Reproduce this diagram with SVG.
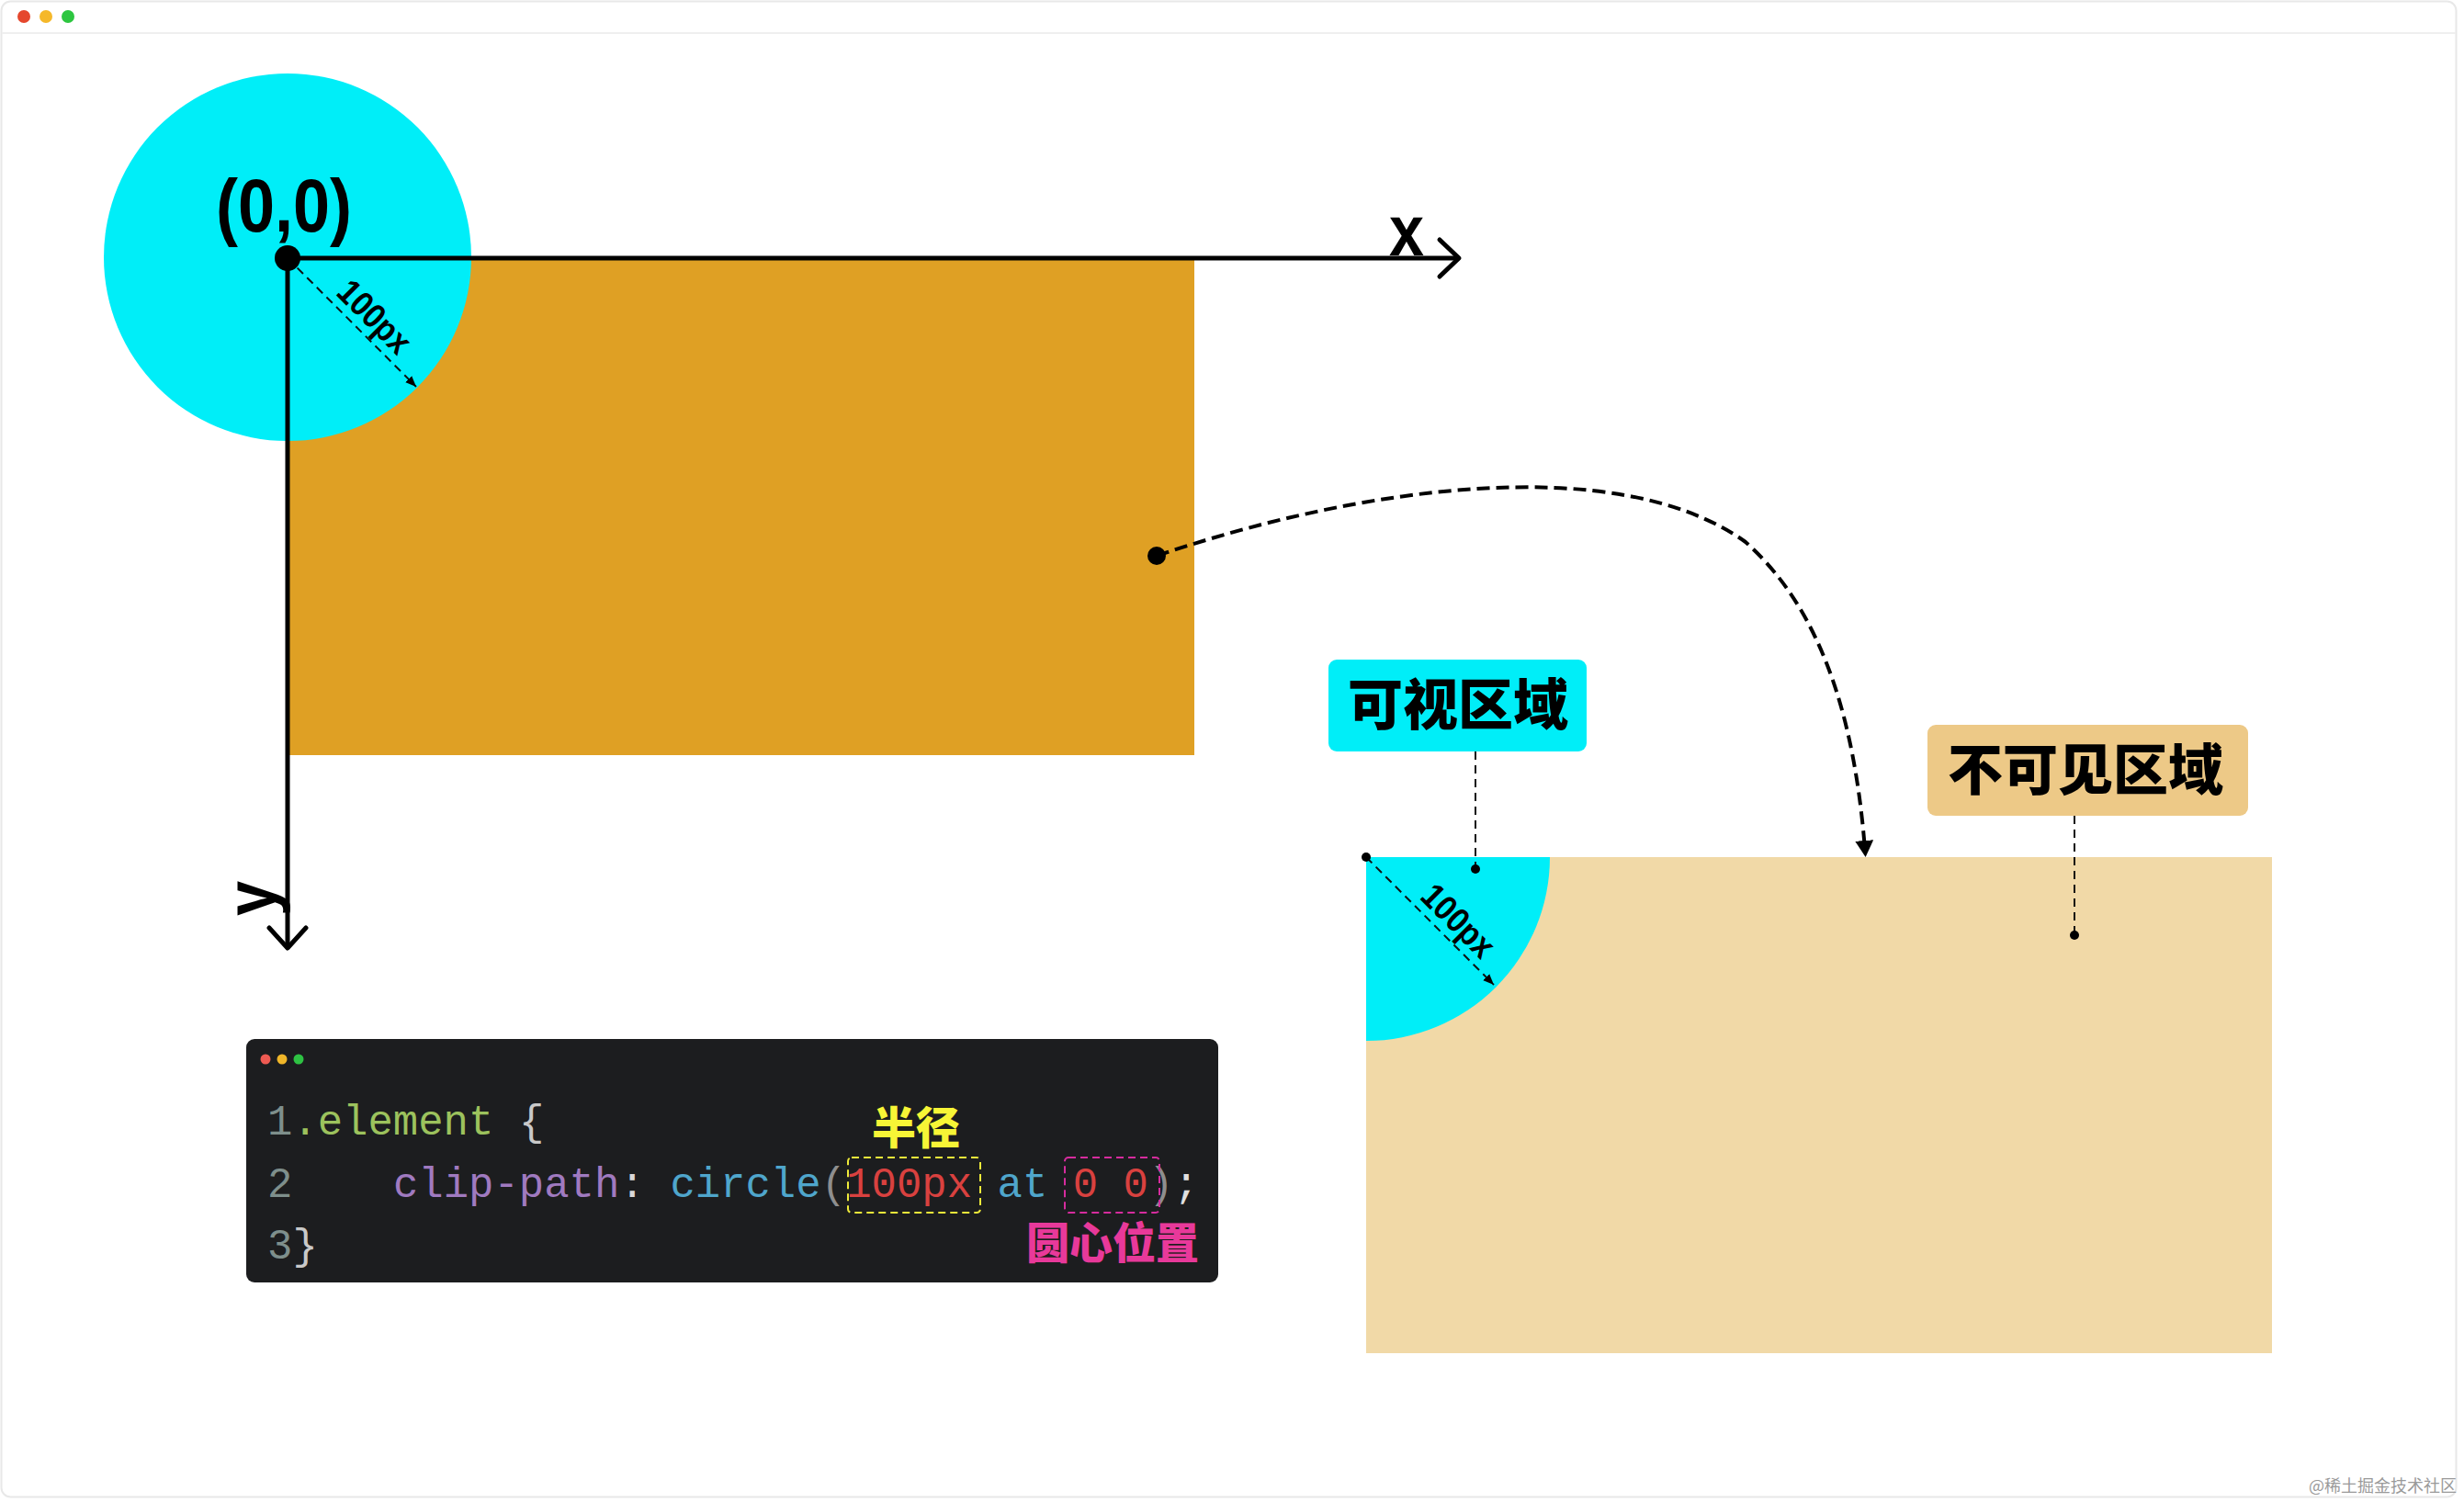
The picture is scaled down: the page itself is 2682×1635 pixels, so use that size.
<svg xmlns="http://www.w3.org/2000/svg" width="2682" height="1635" viewBox="0 0 2682 1635">
<defs>
<style>
.cjk{font-family:"Noto Sans CJK SC","Noto Sans CJK JP",sans-serif;font-weight:900}
.bold{font-family:"Liberation Sans",Arial,sans-serif;font-weight:bold}
.code{font-family:"Liberation Mono","DejaVu Sans Mono",monospace;font-size:45.6px}
.lead{stroke:#111;stroke-width:2;stroke-dasharray:9 6;fill:none}
.axis{stroke:#000;stroke-width:5;fill:none;stroke-linecap:round;stroke-linejoin:round}
.dot{fill:#000}
</style>
<marker id="small" viewBox="0 0 12 10" refX="12" refY="5" markerWidth="12" markerHeight="10" markerUnits="userSpaceOnUse" orient="auto">
<path d="M0,0 L12,5 L0,10 z" fill="#000"/>
</marker>
<marker id="big" viewBox="0 0 18 20" refX="10" refY="10" markerWidth="18" markerHeight="20" markerUnits="userSpaceOnUse" orient="auto">
<path d="M0,0 L18,10 L0,20 z" fill="#000"/>
</marker>
</defs>

<rect width="2682" height="1635" fill="#fff"/>
<g id="window-frame">
<rect x="1.5" y="1.5" width="2672" height="1628" rx="10" fill="#fff" stroke="#E8E8E8" stroke-width="2"/>
<line x1="2" y1="36" x2="2673" y2="36" stroke="#EFEFEF" stroke-width="2"/>
<circle cx="26" cy="18" r="7" fill="#E5472D"/>
<circle cx="50" cy="18" r="7" fill="#F5B82A"/>
<circle cx="74" cy="18" r="7" fill="#2DC640"/>
</g>

<g id="original-element">
<rect x="313" y="281" width="987" height="541" fill="#DFA024"/>
<circle cx="313" cy="280" r="200" fill="#00EEF8"/>
<line x1="313" y1="281" x2="453" y2="421" class="lead" marker-end="url(#small)"/>
<text class="bold" font-size="38" text-anchor="middle" textLength="96" lengthAdjust="spacingAndGlyphs" transform="translate(313,281) rotate(45)" x="112" y="-9">100px</text>
</g>

<g id="axes">
<line x1="313" y1="281" x2="1586" y2="281" class="axis"/>
<polyline points="1567,261 1588,281 1567,301" class="axis"/>
<line x1="313" y1="281" x2="313" y2="1030" class="axis"/>
<polyline points="293,1010 313,1032 333,1010" class="axis"/>
<circle cx="313" cy="281" r="14" class="dot"/>
<text class="bold" font-size="82" text-anchor="middle" textLength="148" lengthAdjust="spacingAndGlyphs" x="309" y="252">(0,0)</text>
<text class="bold" font-size="78" text-anchor="middle" textLength="38" lengthAdjust="spacingAndGlyphs" x="1531" y="278">x</text>
<text class="bold" font-size="78" text-anchor="middle" textLength="38" lengthAdjust="spacingAndGlyphs" transform="translate(300,978) rotate(-90)" x="0" y="0">y</text>
</g>

<g id="code-block">
<rect x="268" y="1131" width="1058" height="265" rx="9" fill="#1C1D1F"/>
<circle cx="289" cy="1153" r="5.5" fill="#EE5A52"/>
<circle cx="307" cy="1153" r="5.5" fill="#F0B629"/>
<circle cx="325" cy="1153" r="5.5" fill="#2EC243"/>
<text class="code" y="1235"><tspan x="291" fill="#7E8F8C">1</tspan><tspan x="318.4" fill="#9CC25D">.element</tspan><tspan x="565" fill="#C9C9C9">{</tspan></text>
<text class="code" y="1303"><tspan x="291" fill="#7E8F8C">2</tspan><tspan x="428" fill="#A07AC0">clip-path</tspan><tspan x="674.6" fill="#D8D8D8">:</tspan><tspan x="729.4" fill="#4FA6CC">circle</tspan><tspan x="893.8" fill="#8E8E8E">(</tspan><tspan x="921.2" fill="#D9413F">100px</tspan><tspan x="1085.6" fill="#4FA6CC">at</tspan><tspan x="1167.8" fill="#D9413F">0</tspan><tspan x="1222.6" fill="#D9413F">0</tspan><tspan x="1250" fill="#8E8E8E">)</tspan><tspan x="1277.4" fill="#E0E0E0">;</tspan></text>
<text class="code" y="1370"><tspan x="291" fill="#7E8F8C">3</tspan><tspan x="318.4" fill="#C9C9C9">}</tspan></text>
<rect x="923" y="1260" width="144" height="60" rx="4" fill="none" stroke="#EEEA3A" stroke-width="2" stroke-dasharray="8 5"/>
<rect x="1159" y="1260" width="103" height="60" rx="4" fill="none" stroke="#D62C9E" stroke-width="2" stroke-dasharray="8 5"/>
<text class="cjk" font-size="48" fill="#F7F536" text-anchor="middle" x="997" y="1245">半径</text>
<text class="cjk" font-size="47" fill="#E8399A" text-anchor="middle" x="1211" y="1370">圆心位置</text>
</g>

<g id="clipped-result">
<rect x="1487" y="933" width="986" height="540" fill="#F1D9A7"/>
<path d="M1487,933 L1687,933 A200,200 0 0 1 1487,1133 Z" fill="#00EEF8"/>
<line x1="1487" y1="933" x2="1626" y2="1072" class="lead" marker-end="url(#small)"/>
<text class="bold" font-size="38" text-anchor="middle" textLength="96" lengthAdjust="spacingAndGlyphs" transform="translate(1487,933) rotate(45)" x="120" y="-9">100px</text>
<circle cx="1487" cy="933" r="5" class="dot"/>
</g>

<g id="label-visible">
<rect x="1446" y="718" width="281" height="100" rx="9" fill="#00EEF8"/>
<text class="cjk" font-size="60" text-anchor="middle" x="1587" y="789">可视区域</text>
</g>

<g id="label-invisible">
<rect x="2098" y="789" width="349" height="99" rx="9" fill="#EDC987"/>
<text class="cjk" font-size="60" text-anchor="middle" x="2270" y="860">不可见区域</text>
</g>

<g id="connectors">
<path d="M1259,605 C1480,530 1760,490 1900,590 C1990,670 2020,800 2030,925" fill="none" stroke="#000" stroke-width="4" stroke-dasharray="14 7" marker-end="url(#big)"/>
<circle cx="1259" cy="605" r="10" class="dot"/>
<line x1="1606" y1="818" x2="1606" y2="945" class="lead"/>
<circle cx="1606" cy="946" r="5" class="dot"/>
<line x1="2258" y1="888" x2="2258" y2="1016" class="lead"/>
<circle cx="2258" cy="1018" r="5" class="dot"/>
</g>

<text font-family="'Noto Sans CJK SC',sans-serif" font-size="18" fill="#9A9A9A" text-anchor="end" x="2674" y="1624">@稀土掘金技术社区</text>
</svg>
